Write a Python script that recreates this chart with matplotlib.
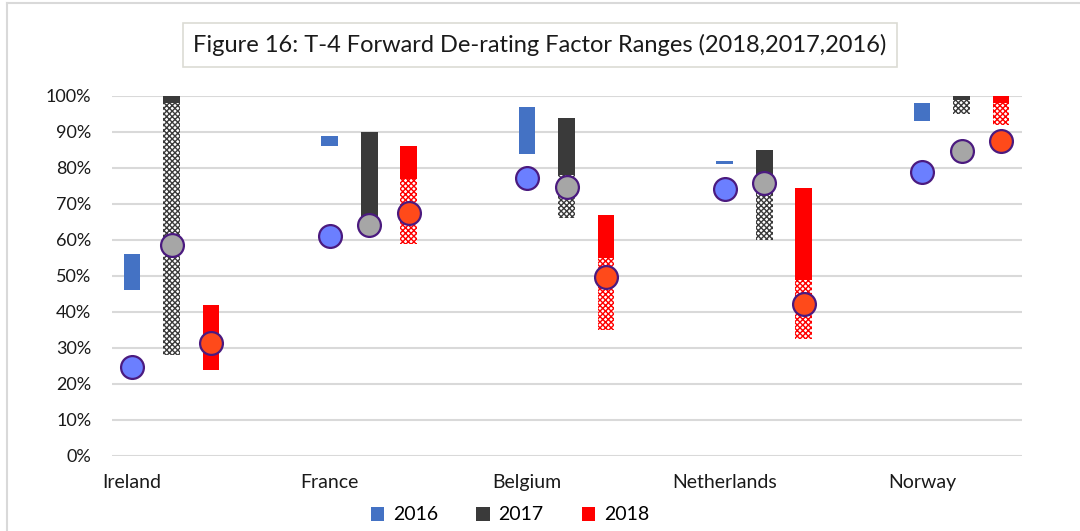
import matplotlib.pyplot as plt
from matplotlib.patches import Patch
from matplotlib.ticker import PercentFormatter
import numpy as np

countries = ["Ireland", "France", "Belgium", "Netherlands", "Norway"]
years = ["2016", "2017", "2018"]

# range bars, in % (solid part on top, checkered part below it)
solid_hi_2016 = [56, 89, 97, 82, 98]
solid_lo_2016 = [46, 86, 84, 81, 93]
hatch_lo_2016 = [46, 86, 84, 81, 93]

solid_hi_2017 = [100, 90, 94, 85, 100]
solid_lo_2017 = [98, 65, 78, 76, 99]
hatch_lo_2017 = [28, 65, 66, 60, 95]

solid_hi_2018 = [42, 86, 67, 74.5, 100]
solid_lo_2018 = [24, 77, 55, 49, 98]
hatch_lo_2018 = [24, 59, 35, 32.5, 92]

# circle markers, in %
pt_2016 = [24.8, 61.2, 77.3, 74.1, 78.8]
pt_2017 = [58.6, 64.3, 74.6, 75.7, 84.7]
pt_2018 = [31.3, 67.6, 49.8, 42.2, 87.6]

bar_colors = ["#4472C4", "#3A3A3A", "#FF0000"]
dot_colors = ["#6B7FFF", "#A6A6A6", "#FF4A1A"]
dot_edge = "#4B1A7F"

plt.rcParams["font.family"] = ["Lato", "DejaVu Sans"]
plt.rcParams["hatch.linewidth"] = 1.0

fig = plt.figure(figsize=(10.8, 5.31), dpi=100)
ax = fig.add_axes([112 / 1080, 1 - 456 / 531, 910 / 1080, 360 / 531])

x = np.arange(len(countries))
offsets = [0.0, 0.202, 0.40]
width = 0.086

series = [
    (solid_hi_2016, solid_lo_2016, hatch_lo_2016, pt_2016),
    (solid_hi_2017, solid_lo_2017, hatch_lo_2017, pt_2017),
    (solid_hi_2018, solid_lo_2018, hatch_lo_2018, pt_2018),
]

for k, (hi, lo, hlo, pts) in enumerate(series):
    xs = x + offsets[k]
    hi = np.array(hi); lo = np.array(lo); hlo = np.array(hlo)
    ax.bar(xs, hi - lo, bottom=lo, width=width, color=bar_colors[k],
           linewidth=0, zorder=3, clip_on=False)
    ax.bar(xs, lo - hlo, bottom=hlo, width=width, facecolor="white",
           edgecolor=bar_colors[k], hatch="xxxxxx", linewidth=0,
           zorder=3, clip_on=False)
    ax.scatter(xs, pts, s=270, color=dot_colors[k], edgecolor=dot_edge,
               linewidth=1.6, zorder=5, clip_on=False)

ax.set_ylim(0, 100)
ax.set_xlim(-20 / 197.5, 890 / 197.5)
ax.set_yticks(np.arange(0, 101, 10))
ax.yaxis.set_major_formatter(PercentFormatter(decimals=0))
ax.set_xticks(x)
ax.set_xticklabels(countries)
ax.grid(axis="y", color="#D9D9D9", linewidth=1.5, zorder=0)
ax.set_axisbelow(True)
for s in ax.spines.values():
    s.set_visible(False)
ax.tick_params(axis="y", length=0, labelsize=13, colors="#1a1a1a", pad=15)
ax.tick_params(axis="x", length=0, labelsize=14, colors="#1a1a1a", pad=13)

fig.text(0.5, 1 - 45 / 531, "Figure 16: T-4 Forward De-rating Factor Ranges (2018,2017,2016)",
         ha="center", va="center", fontsize=17, color="#1a1a1a",
         bbox=dict(boxstyle="square,pad=0.45", facecolor="white",
                   edgecolor="#DCDCD4", linewidth=1.2))

handles = [Patch(facecolor=c, edgecolor="none") for c in bar_colors]
fig.legend(handles, years, loc="center", bbox_to_anchor=(510 / 1080, 1 - 515 / 531),
           ncol=3, frameon=False, fontsize=14, handlelength=0.7, handleheight=0.7,
           handletextpad=0.45, columnspacing=1.95)

# outer chart border (left and top)
fig.add_artist(plt.Line2D([7 / 1080, 7 / 1080], [0, 1 - 3 / 531], color="#D9D9D9", linewidth=1.5))
fig.add_artist(plt.Line2D([7 / 1080, 1], [1 - 3 / 531, 1 - 3 / 531], color="#D9D9D9", linewidth=1.5))

fig.savefig("out.png", dpi=100)
